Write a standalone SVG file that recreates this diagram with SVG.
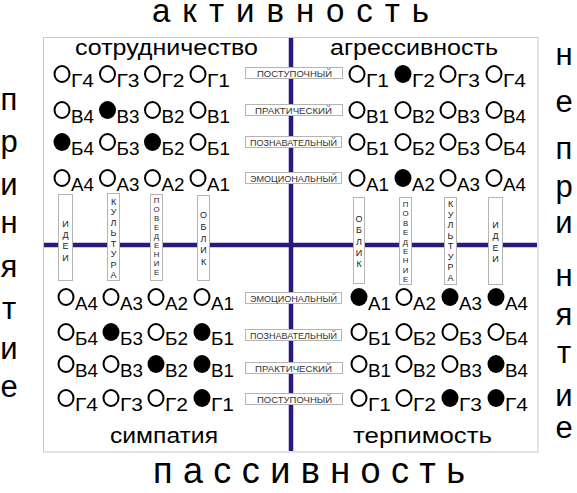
<svg xmlns="http://www.w3.org/2000/svg" width="577" height="493" viewBox="0 0 577 493">
<style>
text{font-family:"Liberation Sans",Arial,sans-serif;fill:#000}
.o{fill:#fff;stroke:#000;stroke-width:2}
.f{fill:#000}
.lb{font-size:18px}
.box{fill:#fff;stroke:#b4b4b4;stroke-width:1}
.bt{font-size:8.5px;fill:#333}
.vt{font-size:9px;fill:#222;text-anchor:middle}
.vs{font-size:7.8px}
.qt{font-size:22px}
.side{font-size:31px;text-anchor:middle}
.ax{stroke:#2a1a80;stroke-width:4.5;fill:none}
</style>
<rect x="43.5" y="37.5" width="494.5" height="414.5" fill="#fff" stroke="#c8c8c8" stroke-width="1"/>
<g id="axes">
<line class="ax" x1="291" y1="38" x2="291" y2="451"/>
<line class="ax" x1="44" y1="245" x2="537" y2="245"/>
</g>
<text x="152" y="22" font-size="33" textLength="277" lengthAdjust="spacing">активность</text>
<text x="153" y="483" font-size="36" textLength="312" lengthAdjust="spacing">пассивность</text>
<g id="side-left">
<text class="side" x="9" y="110">п</text>
<text class="side" x="9" y="152">р</text>
<text class="side" x="9" y="195">и</text>
<text class="side" x="9" y="233">н</text>
<text class="side" x="9" y="277">я</text>
<text class="side" x="9" y="319">т</text>
<text class="side" x="9" y="359">и</text>
<text class="side" x="9" y="397">е</text>
</g>
<g id="side-right">
<text class="side" x="564" y="65">н</text>
<text class="side" x="564" y="112">е</text>
<text class="side" x="564" y="159">п</text>
<text class="side" x="564" y="197">р</text>
<text class="side" x="564" y="233">и</text>
<text class="side" x="564" y="286">н</text>
<text class="side" x="564" y="325">я</text>
<text class="side" x="564" y="363">т</text>
<text class="side" x="564" y="406">и</text>
<text class="side" x="564" y="438">е</text>
</g>
<text class="qt" x="75" y="55" textLength="183" lengthAdjust="spacingAndGlyphs">сотрудничество</text>
<text class="qt" x="330" y="55" textLength="168" lengthAdjust="spacingAndGlyphs">агрессивность</text>
<text class="qt" x="110" y="443" textLength="108" lengthAdjust="spacingAndGlyphs">симпатия</text>
<text class="qt" x="353" y="443" textLength="139" lengthAdjust="spacingAndGlyphs">терпимость</text>
<g id="levels">
<g id="lv-t1"><rect class="box" x="245.5" y="67.5" width="97" height="11"/><text class="bt" x="257" y="76.5" textLength="75" lengthAdjust="spacingAndGlyphs">ПОСТУПОЧНЫЙ</text></g>
<g id="lv-t2"><rect class="box" x="245.5" y="104.5" width="97" height="11"/><text class="bt" x="255" y="113.5" textLength="77" lengthAdjust="spacingAndGlyphs">ПРАКТИЧЕСКИЙ</text></g>
<g id="lv-t3"><rect class="box" x="245.5" y="136.5" width="96" height="11"/><text class="bt" x="250" y="145.5" textLength="87" lengthAdjust="spacingAndGlyphs">ПОЗНАВАТЕЛЬНЫЙ</text></g>
<g id="lv-t4"><rect class="box" x="245.5" y="172.5" width="96" height="11"/><text class="bt" x="250" y="181.5" textLength="87" lengthAdjust="spacingAndGlyphs">ЭМОЦИОНАЛЬНЫЙ</text></g>
<g id="lv-b4"><rect class="box" x="245.5" y="292.5" width="96" height="11"/><text class="bt" x="250" y="301.5" textLength="87" lengthAdjust="spacingAndGlyphs">ЭМОЦИОНАЛЬНЫЙ</text></g>
<g id="lv-b3"><rect class="box" x="245.5" y="329.5" width="96" height="11"/><text class="bt" x="250" y="338.5" textLength="87" lengthAdjust="spacingAndGlyphs">ПОЗНАВАТЕЛЬНЫЙ</text></g>
<g id="lv-b2"><rect class="box" x="245.5" y="362.5" width="97" height="11"/><text class="bt" x="255" y="371.5" textLength="77" lengthAdjust="spacingAndGlyphs">ПРАКТИЧЕСКИЙ</text></g>
<g id="lv-b1"><rect class="box" x="245.5" y="393.5" width="97" height="11"/><text class="bt" x="257" y="402.5" textLength="75" lengthAdjust="spacingAndGlyphs">ПОСТУПОЧНЫЙ</text></g>
</g>
<g id="aspects">
<g id="as-l-idei"><rect class="box" x="58.5" y="194.5" width="14" height="86"/><text class="vt" x="65.5" y="227">И</text><text class="vt" x="65.5" y="238">Д</text><text class="vt" x="65.5" y="249">Е</text><text class="vt" x="65.5" y="261">И</text></g>
<g id="as-l-kult"><rect class="box" x="107.5" y="193.5" width="12" height="87"/><text class="vt" x="113.5" y="205">К</text><text class="vt" x="113.5" y="215.4">У</text><text class="vt" x="113.5" y="225.9">Л</text><text class="vt" x="113.5" y="236.3">Ь</text><text class="vt" x="113.5" y="246.7">Т</text><text class="vt" x="113.5" y="257.1">У</text><text class="vt" x="113.5" y="267.6">Р</text><text class="vt" x="113.5" y="278">А</text></g>
<g id="as-l-pov"><rect class="box" x="150.5" y="194.5" width="12" height="86"/><text class="vt vs" x="156.5" y="203">П</text><text class="vt vs" x="156.5" y="212">О</text><text class="vt vs" x="156.5" y="221">В</text><text class="vt vs" x="156.5" y="230">Е</text><text class="vt vs" x="156.5" y="239">Д</text><text class="vt vs" x="156.5" y="248">Е</text><text class="vt vs" x="156.5" y="257">Н</text><text class="vt vs" x="156.5" y="266">И</text><text class="vt vs" x="156.5" y="275">Е</text></g>
<g id="as-l-oblik"><rect class="box" x="197.5" y="195.5" width="12" height="85"/><text class="vt" x="203.5" y="218">О</text><text class="vt" x="203.5" y="229.8">Б</text><text class="vt" x="203.5" y="241.5">Л</text><text class="vt" x="203.5" y="253.3">И</text><text class="vt" x="203.5" y="265">К</text></g>
<g id="as-r-oblik"><rect class="box" x="353.5" y="197.5" width="11" height="86"/><text class="vt" x="359" y="222">О</text><text class="vt" x="359" y="233.3">Б</text><text class="vt" x="359" y="244.5">Л</text><text class="vt" x="359" y="255.8">И</text><text class="vt" x="359" y="267">К</text></g>
<g id="as-r-pov"><rect class="box" x="399.5" y="197.5" width="12" height="87"/><text class="vt vs" x="405.5" y="207">П</text><text class="vt vs" x="405.5" y="216.4">О</text><text class="vt vs" x="405.5" y="225.8">В</text><text class="vt vs" x="405.5" y="235.1">Е</text><text class="vt vs" x="405.5" y="244.5">Д</text><text class="vt vs" x="405.5" y="253.9">Е</text><text class="vt vs" x="405.5" y="263.3">Н</text><text class="vt vs" x="405.5" y="272.6">И</text><text class="vt vs" x="405.5" y="282">Е</text></g>
<g id="as-r-kult"><rect class="box" x="444.5" y="197.5" width="12" height="87"/><text class="vt" x="450.5" y="207">К</text><text class="vt" x="450.5" y="217.6">У</text><text class="vt" x="450.5" y="228.1">Л</text><text class="vt" x="450.5" y="238.7">Ь</text><text class="vt" x="450.5" y="249.3">Т</text><text class="vt" x="450.5" y="259.9">У</text><text class="vt" x="450.5" y="270.4">Р</text><text class="vt" x="450.5" y="281">А</text></g>
<g id="as-r-idei"><rect class="box" x="488.5" y="197.5" width="14" height="87"/><text class="vt" x="495.5" y="228">И</text><text class="vt" x="495.5" y="239.3">Д</text><text class="vt" x="495.5" y="250.7">Е</text><text class="vt" x="495.5" y="262">И</text></g>
</g>
<g id="q-tl">
<g id="tl-g4"><ellipse class="o" cx="62" cy="74" rx="7.5" ry="8"/><text class="lb" x="71" y="87" textLength="23" lengthAdjust="spacingAndGlyphs">Г4</text></g>
<g id="tl-g3"><ellipse class="o" cx="107.5" cy="74" rx="7.5" ry="8"/><text class="lb" x="116.5" y="87" textLength="23" lengthAdjust="spacingAndGlyphs">Г3</text></g>
<g id="tl-g2"><ellipse class="o" cx="152.5" cy="74" rx="7.5" ry="8"/><text class="lb" x="161.5" y="87" textLength="23" lengthAdjust="spacingAndGlyphs">Г2</text></g>
<g id="tl-g1"><ellipse class="o" cx="198" cy="74" rx="7.5" ry="8"/><text class="lb" x="207" y="87" textLength="23" lengthAdjust="spacingAndGlyphs">Г1</text></g>
<g id="tl-v4"><ellipse class="o" cx="62" cy="110" rx="7.5" ry="8"/><text class="lb" x="71" y="123" textLength="23" lengthAdjust="spacingAndGlyphs">В4</text></g>
<g id="tl-v3"><ellipse class="f" cx="107.5" cy="110" rx="8.5" ry="9"/><text class="lb" x="116.5" y="123" textLength="23" lengthAdjust="spacingAndGlyphs">В3</text></g>
<g id="tl-v2"><ellipse class="o" cx="152.5" cy="110" rx="7.5" ry="8"/><text class="lb" x="161.5" y="123" textLength="23" lengthAdjust="spacingAndGlyphs">В2</text></g>
<g id="tl-v1"><ellipse class="o" cx="198" cy="110" rx="7.5" ry="8"/><text class="lb" x="207" y="123" textLength="23" lengthAdjust="spacingAndGlyphs">В1</text></g>
<g id="tl-b4"><ellipse class="f" cx="62" cy="142" rx="8.5" ry="9"/><text class="lb" x="71" y="155" textLength="23" lengthAdjust="spacingAndGlyphs">Б4</text></g>
<g id="tl-b3"><ellipse class="o" cx="107.5" cy="142" rx="7.5" ry="8"/><text class="lb" x="116.5" y="155" textLength="23" lengthAdjust="spacingAndGlyphs">Б3</text></g>
<g id="tl-b2"><ellipse class="f" cx="152.5" cy="142" rx="8.5" ry="9"/><text class="lb" x="161.5" y="155" textLength="23" lengthAdjust="spacingAndGlyphs">Б2</text></g>
<g id="tl-b1"><ellipse class="o" cx="198" cy="142" rx="7.5" ry="8"/><text class="lb" x="207" y="155" textLength="23" lengthAdjust="spacingAndGlyphs">Б1</text></g>
<g id="tl-a4"><ellipse class="o" cx="62" cy="178" rx="7.5" ry="8"/><text class="lb" x="71" y="191" textLength="23" lengthAdjust="spacingAndGlyphs">А4</text></g>
<g id="tl-a3"><ellipse class="o" cx="107.5" cy="178" rx="7.5" ry="8"/><text class="lb" x="116.5" y="191" textLength="23" lengthAdjust="spacingAndGlyphs">А3</text></g>
<g id="tl-a2"><ellipse class="o" cx="152.5" cy="178" rx="7.5" ry="8"/><text class="lb" x="161.5" y="191" textLength="23" lengthAdjust="spacingAndGlyphs">А2</text></g>
<g id="tl-a1"><ellipse class="o" cx="198" cy="178" rx="7.5" ry="8"/><text class="lb" x="207" y="191" textLength="23" lengthAdjust="spacingAndGlyphs">А1</text></g>
</g>
<g id="q-tr">
<g id="tr-g1"><ellipse class="o" cx="357" cy="74" rx="7.5" ry="8"/><text class="lb" x="366" y="87" textLength="23" lengthAdjust="spacingAndGlyphs">Г1</text></g>
<g id="tr-g2"><ellipse class="f" cx="403" cy="74" rx="8.5" ry="9"/><text class="lb" x="412" y="87" textLength="23" lengthAdjust="spacingAndGlyphs">Г2</text></g>
<g id="tr-g3"><ellipse class="o" cx="448" cy="74" rx="7.5" ry="8"/><text class="lb" x="457" y="87" textLength="23" lengthAdjust="spacingAndGlyphs">Г3</text></g>
<g id="tr-g4"><ellipse class="o" cx="494" cy="74" rx="7.5" ry="8"/><text class="lb" x="503" y="87" textLength="23" lengthAdjust="spacingAndGlyphs">Г4</text></g>
<g id="tr-v1"><ellipse class="o" cx="357" cy="110" rx="7.5" ry="8"/><text class="lb" x="366" y="123" textLength="23" lengthAdjust="spacingAndGlyphs">В1</text></g>
<g id="tr-v2"><ellipse class="o" cx="403" cy="110" rx="7.5" ry="8"/><text class="lb" x="412" y="123" textLength="23" lengthAdjust="spacingAndGlyphs">В2</text></g>
<g id="tr-v3"><ellipse class="o" cx="448" cy="110" rx="7.5" ry="8"/><text class="lb" x="457" y="123" textLength="23" lengthAdjust="spacingAndGlyphs">В3</text></g>
<g id="tr-v4"><ellipse class="o" cx="494" cy="110" rx="7.5" ry="8"/><text class="lb" x="503" y="123" textLength="23" lengthAdjust="spacingAndGlyphs">В4</text></g>
<g id="tr-b1"><ellipse class="o" cx="357" cy="142" rx="7.5" ry="8"/><text class="lb" x="366" y="155" textLength="23" lengthAdjust="spacingAndGlyphs">Б1</text></g>
<g id="tr-b2"><ellipse class="o" cx="403" cy="142" rx="7.5" ry="8"/><text class="lb" x="412" y="155" textLength="23" lengthAdjust="spacingAndGlyphs">Б2</text></g>
<g id="tr-b3"><ellipse class="o" cx="448" cy="142" rx="7.5" ry="8"/><text class="lb" x="457" y="155" textLength="23" lengthAdjust="spacingAndGlyphs">Б3</text></g>
<g id="tr-b4"><ellipse class="o" cx="494" cy="142" rx="7.5" ry="8"/><text class="lb" x="503" y="155" textLength="23" lengthAdjust="spacingAndGlyphs">Б4</text></g>
<g id="tr-a1"><ellipse class="o" cx="357" cy="178" rx="7.5" ry="8"/><text class="lb" x="366" y="191" textLength="23" lengthAdjust="spacingAndGlyphs">А1</text></g>
<g id="tr-a2"><ellipse class="f" cx="403" cy="178" rx="8.5" ry="9"/><text class="lb" x="412" y="191" textLength="23" lengthAdjust="spacingAndGlyphs">А2</text></g>
<g id="tr-a3"><ellipse class="o" cx="448" cy="178" rx="7.5" ry="8"/><text class="lb" x="457" y="191" textLength="23" lengthAdjust="spacingAndGlyphs">А3</text></g>
<g id="tr-a4"><ellipse class="o" cx="494" cy="178" rx="7.5" ry="8"/><text class="lb" x="503" y="191" textLength="23" lengthAdjust="spacingAndGlyphs">А4</text></g>
</g>
<g id="q-bl">
<g id="bl-a4"><ellipse class="o" cx="66" cy="297" rx="7.5" ry="8"/><text class="lb" x="75" y="310" textLength="23" lengthAdjust="spacingAndGlyphs">А4</text></g>
<g id="bl-a3"><ellipse class="o" cx="111" cy="297" rx="7.5" ry="8"/><text class="lb" x="120" y="310" textLength="23" lengthAdjust="spacingAndGlyphs">А3</text></g>
<g id="bl-a2"><ellipse class="o" cx="156" cy="297" rx="7.5" ry="8"/><text class="lb" x="165" y="310" textLength="23" lengthAdjust="spacingAndGlyphs">А2</text></g>
<g id="bl-a1"><ellipse class="o" cx="202" cy="297" rx="7.5" ry="8"/><text class="lb" x="211" y="310" textLength="23" lengthAdjust="spacingAndGlyphs">А1</text></g>
<g id="bl-b4"><ellipse class="o" cx="66" cy="332" rx="7.5" ry="8"/><text class="lb" x="75" y="345" textLength="23" lengthAdjust="spacingAndGlyphs">Б4</text></g>
<g id="bl-b3"><ellipse class="f" cx="111" cy="332" rx="8.5" ry="9"/><text class="lb" x="120" y="345" textLength="23" lengthAdjust="spacingAndGlyphs">Б3</text></g>
<g id="bl-b2"><ellipse class="o" cx="156" cy="332" rx="7.5" ry="8"/><text class="lb" x="165" y="345" textLength="23" lengthAdjust="spacingAndGlyphs">Б2</text></g>
<g id="bl-b1"><ellipse class="f" cx="202" cy="332" rx="8.5" ry="9"/><text class="lb" x="211" y="345" textLength="23" lengthAdjust="spacingAndGlyphs">Б1</text></g>
<g id="bl-v4"><ellipse class="o" cx="66" cy="364" rx="7.5" ry="8"/><text class="lb" x="75" y="377" textLength="23" lengthAdjust="spacingAndGlyphs">В4</text></g>
<g id="bl-v3"><ellipse class="o" cx="111" cy="364" rx="7.5" ry="8"/><text class="lb" x="120" y="377" textLength="23" lengthAdjust="spacingAndGlyphs">В3</text></g>
<g id="bl-v2"><ellipse class="f" cx="156" cy="364" rx="8.5" ry="9"/><text class="lb" x="165" y="377" textLength="23" lengthAdjust="spacingAndGlyphs">В2</text></g>
<g id="bl-v1"><ellipse class="f" cx="202" cy="364" rx="8.5" ry="9"/><text class="lb" x="211" y="377" textLength="23" lengthAdjust="spacingAndGlyphs">В1</text></g>
<g id="bl-g4"><ellipse class="o" cx="66" cy="398" rx="7.5" ry="8"/><text class="lb" x="75" y="411" textLength="23" lengthAdjust="spacingAndGlyphs">Г4</text></g>
<g id="bl-g3"><ellipse class="o" cx="111" cy="398" rx="7.5" ry="8"/><text class="lb" x="120" y="411" textLength="23" lengthAdjust="spacingAndGlyphs">Г3</text></g>
<g id="bl-g2"><ellipse class="o" cx="156" cy="398" rx="7.5" ry="8"/><text class="lb" x="165" y="411" textLength="23" lengthAdjust="spacingAndGlyphs">Г2</text></g>
<g id="bl-g1"><ellipse class="f" cx="202" cy="398" rx="8.5" ry="9"/><text class="lb" x="211" y="411" textLength="23" lengthAdjust="spacingAndGlyphs">Г1</text></g>
</g>
<g id="q-br">
<g id="br-a1"><ellipse class="f" cx="359" cy="297" rx="8.5" ry="9"/><text class="lb" x="368" y="310" textLength="23" lengthAdjust="spacingAndGlyphs">А1</text></g>
<g id="br-a2"><ellipse class="o" cx="404" cy="297" rx="7.5" ry="8"/><text class="lb" x="413" y="310" textLength="23" lengthAdjust="spacingAndGlyphs">А2</text></g>
<g id="br-a3"><ellipse class="f" cx="450" cy="297" rx="8.5" ry="9"/><text class="lb" x="459" y="310" textLength="23" lengthAdjust="spacingAndGlyphs">А3</text></g>
<g id="br-a4"><ellipse class="f" cx="496" cy="297" rx="8.5" ry="9"/><text class="lb" x="505" y="310" textLength="23" lengthAdjust="spacingAndGlyphs">А4</text></g>
<g id="br-b1"><ellipse class="o" cx="359" cy="332" rx="7.5" ry="8"/><text class="lb" x="368" y="345" textLength="23" lengthAdjust="spacingAndGlyphs">Б1</text></g>
<g id="br-b2"><ellipse class="o" cx="404" cy="332" rx="7.5" ry="8"/><text class="lb" x="413" y="345" textLength="23" lengthAdjust="spacingAndGlyphs">Б2</text></g>
<g id="br-b3"><ellipse class="o" cx="450" cy="332" rx="7.5" ry="8"/><text class="lb" x="459" y="345" textLength="23" lengthAdjust="spacingAndGlyphs">Б3</text></g>
<g id="br-b4"><ellipse class="o" cx="496" cy="332" rx="7.5" ry="8"/><text class="lb" x="505" y="345" textLength="23" lengthAdjust="spacingAndGlyphs">Б4</text></g>
<g id="br-v1"><ellipse class="o" cx="359" cy="364" rx="7.5" ry="8"/><text class="lb" x="368" y="377" textLength="23" lengthAdjust="spacingAndGlyphs">В1</text></g>
<g id="br-v2"><ellipse class="o" cx="404" cy="364" rx="7.5" ry="8"/><text class="lb" x="413" y="377" textLength="23" lengthAdjust="spacingAndGlyphs">В2</text></g>
<g id="br-v3"><ellipse class="o" cx="450" cy="364" rx="7.5" ry="8"/><text class="lb" x="459" y="377" textLength="23" lengthAdjust="spacingAndGlyphs">В3</text></g>
<g id="br-v4"><ellipse class="f" cx="496" cy="364" rx="8.5" ry="9"/><text class="lb" x="505" y="377" textLength="23" lengthAdjust="spacingAndGlyphs">В4</text></g>
<g id="br-g1"><ellipse class="o" cx="359" cy="398" rx="7.5" ry="8"/><text class="lb" x="368" y="411" textLength="23" lengthAdjust="spacingAndGlyphs">Г1</text></g>
<g id="br-g2"><ellipse class="o" cx="404" cy="398" rx="7.5" ry="8"/><text class="lb" x="413" y="411" textLength="23" lengthAdjust="spacingAndGlyphs">Г2</text></g>
<g id="br-g3"><ellipse class="f" cx="450" cy="398" rx="8.5" ry="9"/><text class="lb" x="459" y="411" textLength="23" lengthAdjust="spacingAndGlyphs">Г3</text></g>
<g id="br-g4"><ellipse class="f" cx="496" cy="398" rx="8.5" ry="9"/><text class="lb" x="505" y="411" textLength="23" lengthAdjust="spacingAndGlyphs">Г4</text></g>
</g>
</svg>
